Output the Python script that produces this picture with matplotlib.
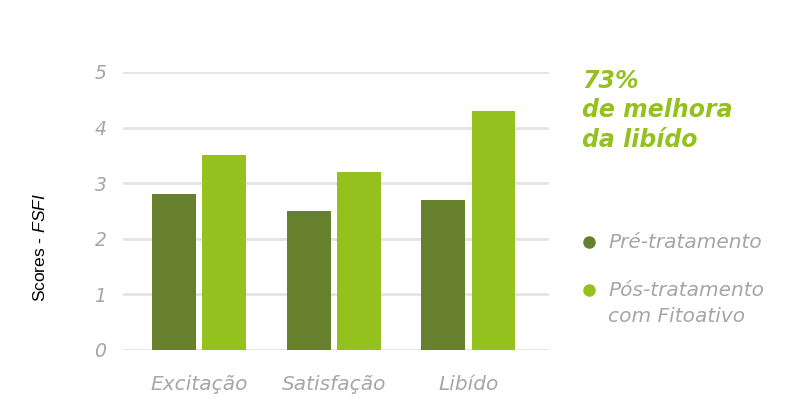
import numpy as np
import matplotlib.pyplot as plt
from matplotlib.lines import Line2D

categories = ['Excitação', 'Satisfação', 'Libído']
pre = [2.8, 2.5, 2.7]
post = [3.5, 3.2, 4.3]
series_names = ['Pré-tratamento', 'Pós-tratamento', 'com Fitoativo']
yticks = [0, 1, 2, 3, 4, 5]

dark = '#66802e'
light = '#95c11f'
grey = '#a6a6a6'

plt.rcParams['font.family'] = ['DejaVu Sans']
plt.rcParams['mathtext.fontset'] = 'custom'
plt.rcParams['mathtext.it'] = 'Liberation Sans:italic'
plt.rcParams['mathtext.rm'] = 'Liberation Sans'

fig = plt.figure(figsize=(8.04, 4.16), dpi=100)
ax = fig.add_axes([0.153, 0.1587, 0.53, 0.6683])

x = np.arange(len(categories))
w = 0.325
off = 0.186
ax.bar(x - off, pre, w, color=dark, zorder=3)
ax.bar(x + off, post, w, color=light, zorder=3)

ax.set_xlim(-0.565, 2.60)
ax.set_ylim(0, 5)
ax.set_yticks(yticks)
ax.yaxis.grid(True, color='#e3e3e3', linewidth=2, zorder=0)
ax.set_axisbelow(True)
for s in ax.spines.values():
    s.set_visible(False)
ax.tick_params(length=0)
ax.set_xticks(x)
ax.set_xticklabels(categories, fontsize=14.5, color=grey, style='italic')
for lab in ax.get_yticklabels():
    lab.set_fontsize(13.5)
    lab.set_color(grey)
    lab.set_style('italic')
ax.tick_params(axis='x', pad=18)
ax.tick_params(axis='y', pad=12)

fig.text(0.05, 0.406, r'Scores - $\mathit{FSFI}$', rotation=90, fontsize=12.5,
         family='Liberation Sans', color='black', va='center', ha='center')

fig.text(0.724, 0.835, '73%\nde melhora\nda libído', fontsize=17, color=light,
         fontweight='bold', style='italic', va='top', ha='left',
         linespacing=1.3)

# legend drawn by hand
for col, yp in [(dark, 242), (light, 290)]:
    fig.add_artist(Line2D([589 / 804], [1 - yp / 416], transform=fig.transFigure,
                          marker='o', markersize=8, color=col, linestyle=''))
for name, yp in zip(series_names, [242, 290, 316]):
    fig.text(608 / 804, 1 - yp / 416, name, fontsize=14.5, color=grey, style='italic',
             va='center', ha='left')

fig.savefig('out.png', dpi=100)
